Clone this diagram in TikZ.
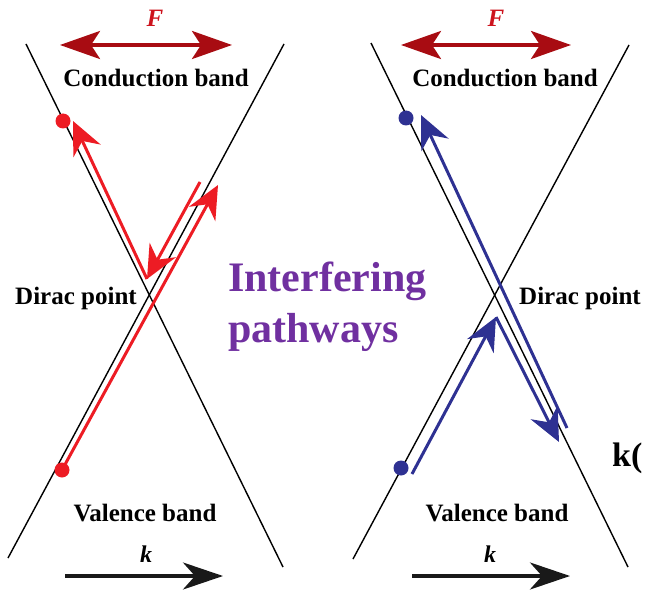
\documentclass[tikz,border=0pt]{standalone}
\usepackage{fontspec}
\setmainfont{Liberation Serif}
\usetikzlibrary{arrows.meta}
\definecolor{pathred}{RGB}{237,28,36}
\definecolor{pathblue}{RGB}{46,49,146}
\definecolor{fieldred}{RGB}{168,12,18}
\definecolor{flabel}{RGB}{205,20,30}
\definecolor{waypurple}{RGB}{112,48,160}
\tikzset{
  band/.style={black, line width=1.4pt},
  bandlbl/.style={font=\bfseries\fontsize{25}{25}\selectfont, inner sep=0pt, anchor=base},
  pathlbl/.style={font=\bfseries\fontsize{42}{42}\selectfont, text=waypurple, inner sep=0pt, anchor=base west},
  redpath/.style={pathred, line width=3pt, -{Stealth[length=33pt,width=30pt,inset=11pt]}},
  bluepath/.style={pathblue, line width=3pt, -{Stealth[length=33pt,width=30pt,inset=11pt]}},
  fieldarrow/.style={fieldred, line width=3.5pt, {Stealth[length=40pt,width=28pt,inset=9pt]}-{Stealth[length=40pt,width=28pt,inset=9pt]}},
  karrow/.style={black!90, line width=3.5pt, -{Stealth[length=40pt,width=27pt,inset=12pt]}}
}
\newcommand{\banddot}[3]{\fill[#3] (#1,#2) circle (7.5pt);}
\begin{document}
\begin{tikzpicture}[x=1pt,y=-1pt]
    \useasboundingbox (0,0) rectangle (648,591);
    % left cone
    \draw[band] (26,44) -- (283,567);
    \draw[band] (284,44) -- (8,558);
    \node[font=\bfseries\itshape\fontsize{25}{25}\selectfont, text=flabel, inner sep=0pt, anchor=base] (fl) at (155,27) {F};
    \draw[fieldarrow] (60,45) -- (232,45);
    \node[bandlbl] (cbl) at (156,87) {Conduction band};
    \node[bandlbl] (dpl) at (76,304) {Dirac point};
    \node[bandlbl] (vbl) at (145,521) {Valence band};
    \node[bandlbl, font=\bfseries\itshape\fontsize{24}{24}\selectfont] (kl) at (146,562) {k};
    \draw[karrow] (65,576) -- (223,576);
    %red pathway
    \draw[redpath] (62,470) -- (218,185);
    \draw[redpath] (200,182) -- (147,279);
    \draw[redpath] (147,279) -- (73,121);
    \banddot{63}{121}{pathred}
    \banddot{62}{470}{pathred}

    % right cone
    \draw[band] (371,43) -- (628,567);
    \draw[band] (629,45) -- (353,559);
    \node[font=\bfseries\itshape\fontsize{25}{25}\selectfont, text=flabel, inner sep=0pt, anchor=base] (fr) at (496,27) {F};
    \draw[fieldarrow] (401,45) -- (571,45);
    \node[bandlbl] (cbr) at (505,87) {Conduction band};
    \node[bandlbl] (dpr) at (580,304) {Dirac point};
    \node[bandlbl] (vbr) at (497,521) {Valence band};
    \node[bandlbl, font=\bfseries\itshape\fontsize{24}{24}\selectfont] (kr) at (490,562) {k};
    \draw[karrow] (412,576) -- (570,576);
    %blue pathway
    \draw[bluepath] (567,428) -- (421,115);
    \draw[bluepath] (412,474) -- (496,317);
    \draw[bluepath] (496,317) -- (559,442);
    \banddot{406}{118}{pathblue}
    \banddot{401}{468}{pathblue}

    \node[pathlbl] (ifa) at (228,291) {Interfering};
    \node[pathlbl] (ifb) at (228,342) {pathways};
    \node[font=\bfseries\fontsize{34}{34}\selectfont, inner sep=0pt, anchor=base west] (kt) at (612,466) {k(};
\end{tikzpicture}
\end{document}
